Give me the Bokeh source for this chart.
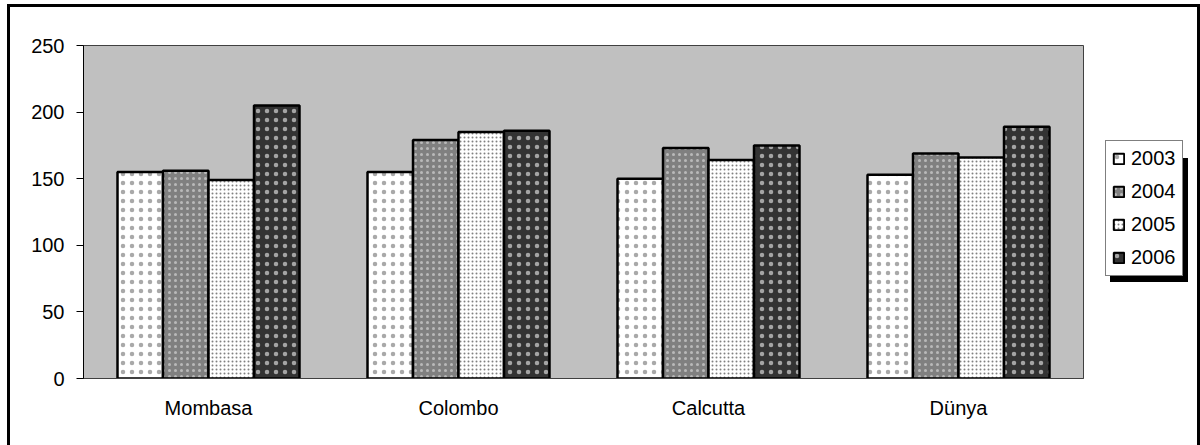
from bokeh.plotting import figure
from bokeh.models import ColumnDataSource, FactorRange, Range1d, Legend, LegendItem
from bokeh.layouts import row
from bokeh.transform import dodge
from bokeh.embed import file_html
from bokeh.resources import INLINE

categories = ["Mombasa", "Colombo", "Calcutta", "Dünya"]
years = ["2003", "2004", "2005", "2006"]
v2003 = [155, 155, 150, 153]
v2004 = [156, 179, 173, 169]
v2005 = [149, 185, 164, 166]
v2006 = [205, 186, 175, 189]
y_ticks = [0, 50, 100, 150, 200, 250]

src = ColumnDataSource(dict(cat=categories, v2003=v2003, v2004=v2004, v2005=v2005, v2006=v2006))

FONT = "Liberation Sans"

p = figure(width=1080, height=438, output_backend="svg", toolbar_location=None,
           x_range=FactorRange(*categories, range_padding=0), y_range=Range1d(0, 250),
           min_border_left=73, min_border_right=7, min_border_top=38, min_border_bottom=67)
p.background_fill_color = "#C0C0C0"
p.border_fill_color = "white"
p.outline_line_color = "#404040"
p.outline_line_width = 1
p.xgrid.visible = False
p.ygrid.visible = False

styles = [
    dict(fill_color="white", hatch_color="#404040", hatch_alpha=0.45, hatch_scale=9, hatch_weight=0.5),
    dict(fill_color="#808080", hatch_color="#E0E0E0", hatch_alpha=0.6, hatch_scale=6, hatch_weight=0.5),
    dict(fill_color="white", hatch_color="#808080", hatch_alpha=1.0, hatch_scale=4, hatch_weight=0.5),
    dict(fill_color="#333333", hatch_color="#F0F0F0", hatch_alpha=0.6, hatch_scale=9, hatch_weight=0.5),
]
offsets = [-0.273, -0.091, 0.091, 0.273]
for yr, off, st in zip(years, offsets, styles):
    p.vbar(x=dodge("cat", off, range=p.x_range), top="v" + yr, width=0.182, bottom=0,
           source=src, line_color="black", line_width=2.5, hatch_pattern="dot", **st)

p.yaxis.ticker = y_ticks
p.yaxis.axis_line_color = "black"
p.yaxis.major_tick_out = 7
p.yaxis.major_tick_in = 0
p.yaxis.minor_tick_line_color = None
p.yaxis.major_tick_line_color = "black"
p.yaxis.major_label_standoff = 12
p.yaxis.major_label_text_font = FONT
p.yaxis.major_label_text_font_size = "20px"
p.yaxis.major_label_text_color = "black"

p.xaxis.axis_line_color = "#404040"
p.xaxis.major_tick_line_color = None
p.xaxis.minor_tick_line_color = None
p.xaxis.major_label_standoff = 12
p.xaxis.major_label_text_font = FONT
p.xaxis.major_label_text_font_size = "20px"
p.xaxis.major_label_text_color = "black"

# legend panel (its frame is aligned with the main plot's frame)
q = figure(width=107, height=438, output_backend="svg", toolbar_location=None,
           x_range=Range1d(0, 1), y_range=Range1d(0, 1),
           x_axis_location=None, y_axis_location=None,
           min_border_left=0, min_border_right=0, min_border_top=0, min_border_bottom=0)
q.xgrid.visible = False
q.ygrid.visible = False
q.outline_line_color = None
q.background_fill_color = "white"
q.border_fill_color = "white"
key_src = ColumnDataSource(dict(x=[0.5], top=[0.0]))
leg_renderers = []
for st in styles:
    r = q.vbar(x="x", top="top", width=0.1, source=key_src, line_color="black",
               line_width=2, hatch_pattern="dot", visible=False, **st)
    leg_renderers.append(r)

def make_legend(loc, shadow):
    labels = [" "] * len(years) if shadow else years
    items = [LegendItem(label=lb, renderers=[r]) for lb, r in zip(labels, leg_renderers)]
    lg = Legend(items=items, location=loc, orientation="vertical",
                glyph_width=13, glyph_height=13, label_height=20, spacing=10,
                padding=6, margin=0, label_standoff=6,
                label_width=45 if shadow else 20,
                label_text_font=FONT, label_text_font_size="20px",
                label_text_color="black", border_line_color="black", border_line_width=1,
                inactive_fill_alpha=0.0, background_fill_alpha=1.0)
    lg.background_fill_color = "black" if shadow else "white"
    return lg

q.add_layout(make_legend((20, 96), True))   # drop shadow
q.add_layout(make_legend((15, 102), False))

layout = row(p, q, styles={"border": "3px solid black", "margin-left": "7px", "margin-top": "4px"})

open("out.html", "w").write(file_html(layout, INLINE))
